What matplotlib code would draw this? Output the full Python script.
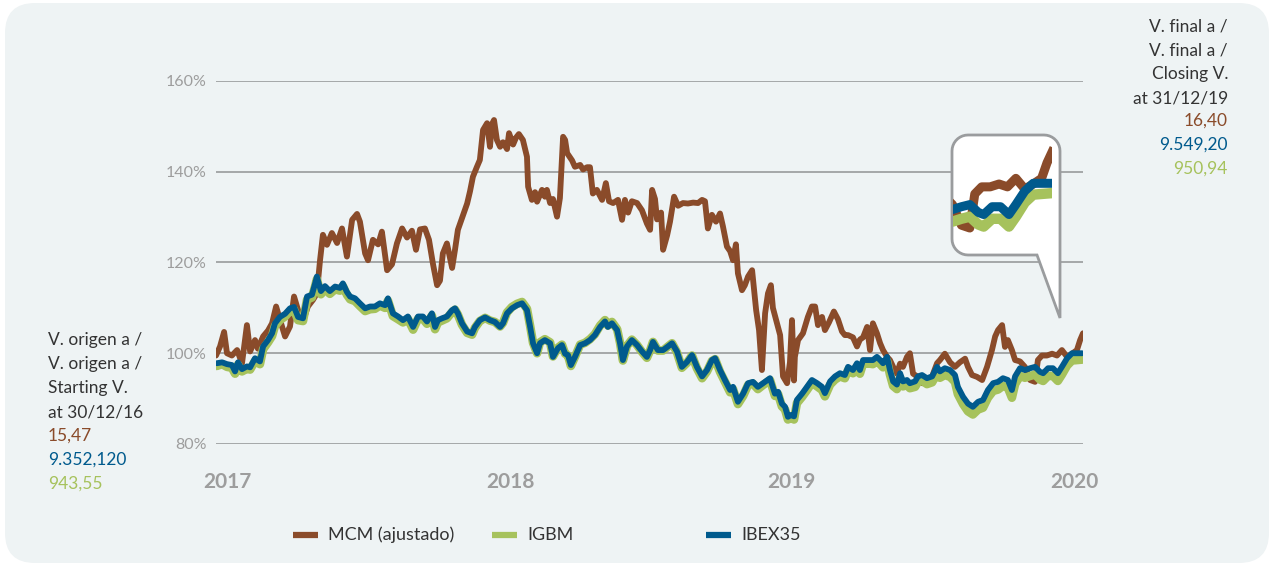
import numpy as np
import matplotlib
matplotlib.use("Agg")
import matplotlib.pyplot as plt
from matplotlib.patches import FancyBboxPatch, PathPatch
from matplotlib.path import Path

plt.rcParams['font.family'] = ['Lato', 'DejaVu Sans']

# MCM (ajustado), base 100 = 30/12/2016
mcm_t = [2017.000, 2017.014, 2017.028, 2017.038, 2017.055, 2017.073, 2017.090, 2017.107, 2017.118, 2017.135,
         2017.145, 2017.163, 2017.180, 2017.194, 2017.208, 2017.225, 2017.239, 2017.256, 2017.270, 2017.284,
         2017.301, 2017.318, 2017.336, 2017.349, 2017.360, 2017.370, 2017.384, 2017.401, 2017.419, 2017.436,
         2017.453, 2017.471, 2017.488, 2017.498, 2017.516, 2017.526, 2017.543, 2017.561, 2017.574, 2017.592,
         2017.609, 2017.626, 2017.644, 2017.661, 2017.678, 2017.692, 2017.706, 2017.723, 2017.737, 2017.751,
         2017.765, 2017.775, 2017.785, 2017.799, 2017.817, 2017.827, 2017.837, 2017.855, 2017.869, 2017.879,
         2017.889, 2017.903, 2017.913, 2017.924, 2017.938, 2017.948, 2017.955, 2017.962, 2017.972, 2017.983,
         2017.993, 2018.007, 2018.014, 2018.028, 2018.038, 2018.048, 2018.062, 2018.076, 2018.080, 2018.093,
         2018.104, 2018.111, 2018.128, 2018.138, 2018.145, 2018.156, 2018.166, 2018.180, 2018.190, 2018.201,
         2018.208, 2018.215, 2018.232, 2018.242, 2018.260, 2018.270, 2018.284, 2018.294, 2018.304, 2018.318,
         2018.336, 2018.349, 2018.360, 2018.374, 2018.391, 2018.405, 2018.415, 2018.426, 2018.439, 2018.457,
         2018.474, 2018.491, 2018.502, 2018.509, 2018.519, 2018.526, 2018.540, 2018.547, 2018.561, 2018.571,
         2018.585, 2018.599, 2018.616, 2018.633, 2018.651, 2018.668, 2018.682, 2018.692, 2018.702, 2018.716,
         2018.730, 2018.744, 2018.754, 2018.768, 2018.779, 2018.789, 2018.799, 2018.806, 2018.820, 2018.830,
         2018.841, 2018.855, 2018.869, 2018.879, 2018.889, 2018.900, 2018.910, 2018.920, 2018.927, 2018.941,
         2018.952, 2018.962, 2018.976, 2018.986, 2018.993, 2019.000, 2019.003, 2019.014, 2019.031, 2019.048,
         2019.062, 2019.073, 2019.083, 2019.097, 2019.107, 2019.121, 2019.138, 2019.152, 2019.166, 2019.176,
         2019.187, 2019.204, 2019.218, 2019.228, 2019.239, 2019.253, 2019.263, 2019.273, 2019.287, 2019.298,
         2019.308, 2019.322, 2019.332, 2019.343, 2019.356, 2019.367, 2019.377, 2019.391, 2019.401, 2019.412,
         2019.426, 2019.443, 2019.460, 2019.478, 2019.495, 2019.505, 2019.522, 2019.540, 2019.557, 2019.574,
         2019.592, 2019.602, 2019.616, 2019.633, 2019.651, 2019.668, 2019.685, 2019.696, 2019.706, 2019.720,
         2019.730, 2019.740, 2019.754, 2019.765, 2019.782, 2019.799, 2019.817, 2019.834, 2019.844, 2019.858,
         2019.875, 2019.893, 2019.910, 2019.927, 2019.945, 2019.962, 2019.979, 2019.990, 2020.000]
mcm = [99.5, 101.5, 104.7, 100.0, 99.5, 100.7, 97.8, 106.2, 100.4, 102.9,
       101.0, 103.7, 105.0, 106.6, 110.3, 106.6, 103.7, 105.9, 112.5, 109.5,
       107.0, 110.3, 111.8, 113.2, 120.5, 126.1, 123.9, 126.5, 124.3, 127.5,
       121.3, 129.4, 130.7, 129.0, 122.0, 120.5, 125.0, 124.0, 126.8, 118.3,
       119.6, 124.2, 127.5, 125.5, 127.0, 122.8, 127.3, 127.5, 125.0, 119.6,
       115.0, 116.0, 122.0, 124.2, 118.8, 122.8, 127.2, 130.5, 133.0, 135.7,
       138.9, 141.1, 142.6, 149.2, 150.7, 145.5, 150.5, 151.4, 147.0, 145.5,
       146.5, 145.0, 148.5, 146.0, 147.5, 148.3, 147.0, 143.3, 136.7, 133.8,
       135.5, 133.4, 136.0, 134.5, 136.0, 133.1, 134.0, 130.1, 134.2, 147.7,
       147.0, 144.1, 142.5, 141.1, 141.5, 140.5, 141.0, 141.0, 135.2, 136.0,
       133.8, 137.5, 133.5, 133.1, 133.8, 129.4, 133.8, 131.0, 133.5, 133.1,
       131.5, 128.6, 127.2, 136.0, 134.0, 129.5, 131.0, 122.8, 126.0, 129.0,
       134.5, 132.5, 133.1, 133.0, 133.2, 133.1, 133.8, 133.5, 127.5, 130.5,
       129.0, 130.8, 128.0, 123.5, 122.5, 120.5, 124.0, 117.6, 113.9, 115.0,
       116.9, 118.3, 109.5, 105.1, 96.3, 108.8, 113.2, 115.0, 110.0, 106.6,
       104.0, 94.9, 93.4, 98.0, 107.3, 94.0, 99.2, 102.9, 104.4, 108.0,
       110.3, 110.3, 106.2, 108.0, 105.1, 106.8, 109.2, 107.5, 104.8, 104.0,
       104.0, 103.5, 101.5, 103.0, 103.5, 105.8, 100.7, 106.6, 104.4, 102.2,
       100.7, 99.2, 98.5, 97.0, 95.5, 97.7, 97.0, 99.2, 100.0, 95.5,
       94.9, 93.4, 93.4, 94.9, 97.8, 98.5, 99.9, 98.0, 97.0, 98.0,
       98.8, 97.0, 95.2, 94.8, 94.1, 97.0, 100.7, 103.7, 105.1, 106.2,
       101.4, 102.9, 100.7, 98.5, 98.2, 97.0, 94.1, 93.7, 98.5, 99.5,
       99.5, 99.9, 99.5, 100.7, 99.2, 99.9, 100.7, 102.9, 104.4]

# IBEX35 and IGBM, same dates
idx_t = [2017.003, 2017.021, 2017.038, 2017.055, 2017.066, 2017.076, 2017.090, 2017.107, 2017.118, 2017.135,
         2017.152, 2017.163, 2017.180, 2017.194, 2017.204, 2017.221, 2017.239, 2017.256, 2017.270, 2017.284,
         2017.301, 2017.315, 2017.332, 2017.343, 2017.349, 2017.363, 2017.377, 2017.394, 2017.412, 2017.429,
         2017.439, 2017.453, 2017.464, 2017.481, 2017.498, 2017.516, 2017.533, 2017.550, 2017.567, 2017.585,
         2017.595, 2017.612, 2017.630, 2017.647, 2017.664, 2017.682, 2017.699, 2017.716, 2017.730, 2017.747,
         2017.758, 2017.768, 2017.782, 2017.799, 2017.817, 2017.827, 2017.837, 2017.851, 2017.869, 2017.886,
         2017.896, 2017.913, 2017.931, 2017.948, 2017.965, 2017.983, 2017.993, 2018.007, 2018.024, 2018.042,
         2018.059, 2018.076, 2018.087, 2018.097, 2018.111, 2018.121, 2018.138, 2018.156, 2018.166, 2018.183,
         2018.197, 2018.208, 2018.218, 2018.228, 2018.242, 2018.260, 2018.277, 2018.294, 2018.311, 2018.329,
         2018.346, 2018.356, 2018.370, 2018.388, 2018.398, 2018.408, 2018.422, 2018.439, 2018.457, 2018.474,
         2018.491, 2018.502, 2018.512, 2018.529, 2018.547, 2018.564, 2018.578, 2018.595, 2018.612, 2018.630,
         2018.647, 2018.664, 2018.682, 2018.699, 2018.716, 2018.727, 2018.744, 2018.761, 2018.779, 2018.789,
         2018.806, 2018.824, 2018.841, 2018.858, 2018.875, 2018.893, 2018.917, 2018.934, 2018.945, 2018.958,
         2018.969, 2018.979, 2018.990, 2019.000, 2019.010, 2019.028, 2019.045, 2019.062, 2019.080, 2019.097,
         2019.107, 2019.125, 2019.142, 2019.159, 2019.176, 2019.187, 2019.204, 2019.218, 2019.228, 2019.239,
         2019.253, 2019.263, 2019.273, 2019.287, 2019.298, 2019.308, 2019.322, 2019.332, 2019.343, 2019.356,
         2019.367, 2019.377, 2019.391, 2019.401, 2019.419, 2019.429, 2019.443, 2019.460, 2019.478, 2019.495,
         2019.505, 2019.522, 2019.540, 2019.557, 2019.567, 2019.585, 2019.602, 2019.619, 2019.637, 2019.654,
         2019.671, 2019.689, 2019.706, 2019.723, 2019.740, 2019.754, 2019.765, 2019.782, 2019.799, 2019.817,
         2019.834, 2019.851, 2019.862, 2019.879, 2019.896, 2019.913, 2019.927, 2019.945, 2019.962, 2019.979,
         2019.997]
ibex = [97.8, 98.0, 97.6, 97.4, 96.0, 98.0, 96.5, 97.1, 96.9, 98.9,
        98.2, 101.5, 102.9, 104.4, 106.6, 108.0, 108.7, 109.9, 110.2, 108.0,
        107.7, 112.5, 112.9, 115.4, 116.9, 113.7, 114.8, 113.7, 114.7, 114.4,
        115.4, 113.5, 112.5, 112.1, 111.0, 109.9, 110.3, 110.3, 111.0, 110.6,
        112.1, 108.8, 108.1, 107.3, 108.1, 105.8, 108.1, 108.1, 107.0, 108.8,
        105.8, 107.3, 107.7, 108.1, 109.5, 109.9, 108.8, 106.6, 104.8, 104.4,
        105.8, 107.3, 107.9, 107.3, 106.9, 105.8, 106.6, 108.8, 109.9, 110.6,
        111.0, 109.5, 105.8, 102.2, 100.0, 102.2, 102.9, 102.2, 99.2, 101.1,
        101.8, 99.9, 99.6, 97.4, 99.2, 101.8, 102.2, 102.9, 104.0, 105.8,
        107.0, 105.8, 106.6, 105.1, 102.2, 98.5, 101.5, 102.9, 101.8, 100.4,
        99.2, 100.7, 102.5, 100.7, 100.7, 101.5, 102.2, 100.4, 97.0, 98.1,
        99.6, 97.0, 94.9, 96.3, 98.5, 98.9, 96.3, 94.1, 91.9, 92.6,
        89.3, 91.1, 93.4, 93.7, 92.6, 93.4, 94.5, 91.1, 91.5, 88.9,
        88.2, 86.0, 86.4, 86.1, 89.7, 91.1, 92.6, 94.1, 93.4, 92.6,
        91.2, 93.8, 94.9, 95.6, 95.2, 97.0, 96.3, 97.8, 96.3, 98.5,
        98.5, 98.5, 98.5, 99.2, 98.5, 97.8, 99.2, 96.3, 93.8, 93.1,
        95.6, 93.8, 94.1, 93.4, 93.8, 94.9, 95.2, 94.5, 94.9, 97.0,
        96.0, 96.7, 96.3, 95.2, 92.6, 90.4, 88.9, 88.2, 89.3, 89.7,
        91.9, 93.4, 93.7, 94.5, 94.1, 91.9, 94.9, 96.7, 96.3, 96.7,
        97.0, 95.9, 95.6, 96.7, 96.7, 95.6, 97.0, 98.9, 100.0, 100.0,
        100.0]
igbm = [97.2, 97.6, 97.0, 96.8, 95.5, 97.5, 96.0, 96.6, 96.4, 98.3,
        97.6, 100.9, 102.4, 103.8, 106.0, 107.3, 108.1, 109.3, 109.6, 107.3,
        107.1, 111.8, 112.3, 114.8, 116.3, 113.0, 114.2, 113.1, 114.1, 113.8,
        114.8, 112.9, 111.9, 111.5, 110.4, 109.3, 109.7, 109.8, 110.5, 110.0,
        111.6, 108.2, 107.5, 106.8, 107.6, 105.2, 107.6, 107.6, 106.5, 108.3,
        105.3, 106.8, 107.2, 107.7, 109.1, 109.6, 108.5, 106.3, 104.5, 104.1,
        105.6, 107.1, 107.8, 107.2, 106.9, 105.9, 106.7, 109.0, 110.2, 110.9,
        111.3, 109.8, 106.0, 102.3, 100.0, 102.4, 103.1, 102.4, 99.3, 101.2,
        101.9, 99.9, 99.5, 97.2, 99.2, 101.9, 102.3, 103.1, 104.2, 106.1,
        107.3, 106.1, 106.9, 105.3, 102.3, 98.4, 101.6, 103.0, 101.8, 100.3,
        99.0, 100.6, 102.5, 100.6, 100.6, 101.5, 102.2, 100.2, 96.8, 97.9,
        99.5, 96.7, 94.5, 96.0, 98.3, 98.7, 95.9, 93.7, 91.4, 92.1,
        88.8, 90.6, 93.0, 93.3, 92.1, 93.0, 94.1, 90.6, 91.0, 88.3,
        87.6, 85.4, 85.8, 85.4, 89.0, 90.4, 91.9, 93.5, 92.7, 91.9,
        90.5, 93.1, 94.2, 94.9, 94.5, 96.3, 95.6, 97.1, 95.5, 97.7,
        97.7, 97.7, 97.6, 98.3, 97.6, 96.9, 98.3, 95.3, 92.8, 92.1,
        94.6, 92.7, 93.0, 92.3, 92.6, 93.7, 94.0, 93.2, 93.6, 95.6,
        94.6, 95.2, 94.8, 93.7, 91.0, 88.8, 87.2, 86.5, 87.6, 88.0,
        90.2, 91.7, 92.0, 92.8, 92.4, 90.2, 93.2, 95.0, 94.6, 95.0,
        95.3, 94.2, 93.9, 95.0, 95.0, 93.9, 95.3, 97.3, 98.4, 98.5,
        98.6]

year_labels = ['2017', '2018', '2019', '2020']
year_pos = [2017.04, 2018.02, 2018.99, 2019.97]
yticks = [80, 100, 120, 140, 160]

left_text = ['V. origen a /', 'V. origen a /', 'Starting V.', 'at 30/12/16']
left_vals = ['15,47', '9.352,120', '943,55']
right_text = ['V. final a /', 'V. final a /', 'Closing V.', 'at 31/12/19']
right_vals = ['16,40', '9.549,20', '950,94']

brown = '#8a4b2a'
green = '#a6c25c'
blue = '#005a8d'
W, H = 1274, 566


def fx(x):
    return x / W


def fy(y):
    return 1 - y / H


fig = plt.figure(figsize=(W / 100, H / 100), dpi=100)
fig.patch.set_facecolor('white')
bg = FancyBboxPatch((0.05, 0.03), 12.64, 5.6, boxstyle='round,pad=0,rounding_size=0.3',
                    transform=fig.dpi_scale_trans, fc='#eef3f4', ec='none', zorder=-10)
fig.patches.append(bg)

ax = fig.add_axes([fx(216), fy(444), fx(1083) - fx(216), fy(81) - fy(444)])
ax.set_facecolor('none')
ax.plot(mcm_t, mcm, color=brown, lw=4.2, solid_joinstyle='round', solid_capstyle='round', zorder=2)
ax.plot(idx_t, igbm, color=green, lw=6.2, solid_joinstyle='round', solid_capstyle='round', zorder=3)
ax.plot(idx_t, ibex, color=blue, lw=4.2, solid_joinstyle='round', solid_capstyle='round', zorder=4)
ax.set_xlim(2017, 2020)
ax.set_ylim(80, 160)
ax.set_yticks(yticks)
ax.set_yticklabels([f'{v}%' for v in yticks])
ax.set_xticks(year_pos)
ax.set_xticklabels(year_labels)
ax.yaxis.grid(True, color='#a5a7a8', lw=1.4, zorder=0)
ax.tick_params(axis='y', length=0, pad=7, labelsize=11.5, labelcolor='#9d9d9d')
ax.tick_params(axis='x', length=0, pad=20, labelsize=15, labelcolor='#9d9d9d')
for lab in ax.get_xticklabels():
    lab.set_fontweight('bold')
for s in ax.spines.values():
    s.set_visible(False)
ax.set_axisbelow(True)

# speech bubble with zoom of the last weeks
r = 16
pts = [(952 + r, 135), (1060 - r, 135)]
for a in np.linspace(90, 0, 10):
    pts.append((1060 - r + r * np.cos(np.radians(a)), 135 + r - r * np.sin(np.radians(a))))
pts += [(1060, 318), (1037, 255), (952 + r, 255)]
for a in np.linspace(270, 180, 10):
    pts.append((952 + r + r * np.cos(np.radians(a)), 255 - r - r * np.sin(np.radians(a))))
for a in np.linspace(180, 90, 10):
    pts.append((952 + r + r * np.cos(np.radians(a)), 135 + r - r * np.sin(np.radians(a))))
verts = [(fx(x), fy(y)) for x, y in pts]
bubble = PathPatch(Path(verts + [verts[0]], closed=True), transform=fig.transFigure,
                   fc='white', ec='#9a9c9e', lw=2, zorder=5)
fig.patches.append(bubble)

ins = fig.add_axes([fx(953), fy(250), fx(1052) - fx(953), fy(145) - fy(250)])
ins.set_zorder(6)
ins.set_facecolor('none')
ins.plot(mcm_t, mcm, color=brown, lw=6.5, solid_joinstyle='round')
ins.plot(idx_t, igbm, color=green, lw=7.5, solid_joinstyle='round')
ins.plot(idx_t, ibex, color=blue, lw=6.5, solid_joinstyle='round')
ins.set_xlim(2019.80, 2020.0)
ins.set_ylim(90.6, 105.4)
ins.axis('off')

# start / end values
fs = 12.5
for i, t in enumerate(left_text):
    fig.text(fx(48), fy(340 + 24 * i), t, fontsize=fs, color='#333333', va='center')
for i, (t, c) in enumerate(zip(left_vals, [brown, blue, green])):
    fig.text(fx(48), fy(436 + 24 * i), t, fontsize=fs, color=c, va='center')
for i, t in enumerate(right_text):
    fig.text(fx(1228), fy(26 + 24 * i), t, fontsize=fs, color='#333333', va='center', ha='right')
for i, (t, c) in enumerate(zip(right_vals, [brown, blue, green])):
    fig.text(fx(1228), fy(121 + 24 * i), t, fontsize=fs, color=c, va='center', ha='right')

# legend
for x0, name, c in [(293, 'MCM (ajustado)', brown), (492, 'IGBM', green), (706, 'IBEX35', blue)]:
    fig.lines.append(plt.Line2D([fx(x0), fx(x0 + 25)], [fy(535), fy(535)], transform=fig.transFigure,
                                color=c, lw=4.5, solid_capstyle='butt'))
    fig.text(fx(x0 + 35), fy(535), name, fontsize=13, color='#333333', va='center')

fig.savefig('out.png', dpi=100, facecolor='white')
